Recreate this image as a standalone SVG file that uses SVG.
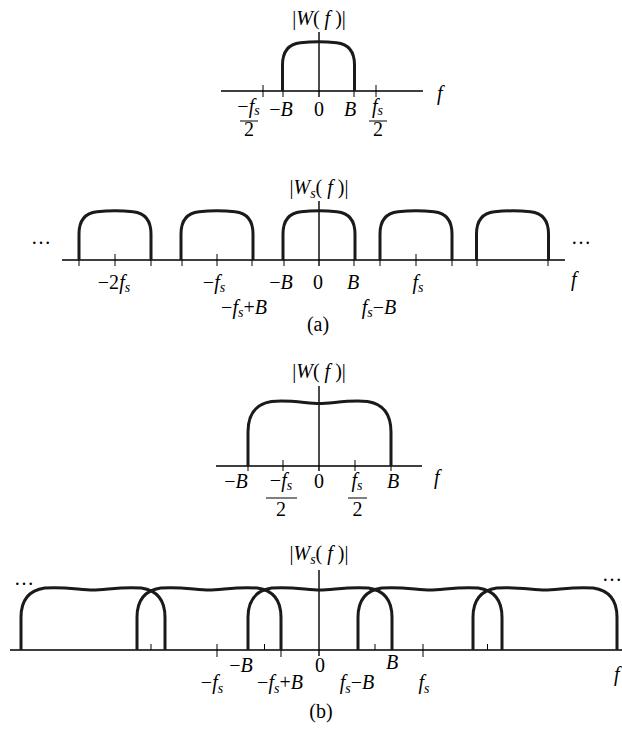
<svg xmlns="http://www.w3.org/2000/svg" width="622" height="729" viewBox="0 0 622 729">
<style>
.ax{stroke:#000;stroke-width:1.4;fill:none}
.tk{stroke:#000;stroke-width:1;fill:none}
.pl{stroke:#1a1a1a;stroke-width:3;fill:none;stroke-linejoin:round}
.bar{stroke:#000;stroke-width:1;}
text{font-family:"Liberation Serif","Times New Roman",serif;font-size:20px;fill:#000}
.i{font-style:italic}
.sub{font-size:14px;font-style:italic}
.m{text-anchor:middle}
</style>
<defs>
<path id="pa" d="M-36 0V-26C-36 -40 -30 -47 -18 -48.3Q0 -50 18 -48.3C30 -47 36 -40 36 -26V0"/>
<path id="pb1" d="M-71.5 0V-34C-71.5 -52 -64 -62 -48 -64.5C-30 -66.5 -12 -62.4 0 -62.4C12 -62.4 30 -66.5 48 -64.5C64 -62 71.5 -52 71.5 -34V0"/>
<path id="pb2" d="M-72 0V-32.6C-72 -50 -64.5 -59.5 -48.3 -61.9C-30.2 -63.8 -12 -59.9 0 -59.9C12 -59.9 30.2 -63.8 48.3 -61.9C64.5 -59.5 72 -50 72 -32.6V0"/>
</defs>
<rect width="622" height="729" fill="#fff"/>

<g id="plot-a1">
<path class="ax" d="M221 91H423M319 32V97"/>
<path class="tk" d="M263 85V97M376 85V97M283 91V97M354 91V97"/>
<use href="#pa" class="pl" transform="translate(318.5,91)"/>
<text class="m" x="319" y="25">|<tspan class="i">W</tspan>( <tspan class="i">f</tspan> )|</text>
<text class="i" x="437" y="100">f</text>
<text class="m" x="248.5" y="113">−<tspan class="i">f</tspan><tspan class="sub" dy="2">s</tspan></text>
<line class="bar" x1="240" y1="121" x2="258" y2="121"/>
<text class="m" x="249" y="136">2</text>
<text class="m" x="281" y="116">−<tspan class="i">B</tspan></text>
<text class="m" x="319" y="116">0</text>
<text class="m i" x="350" y="116">B</text>
<text class="m" x="377.5" y="113"><tspan class="i">f</tspan><tspan class="sub" dy="2">s</tspan></text>
<line class="bar" x1="369" y1="121" x2="387" y2="121"/>
<text class="m" x="378" y="136">2</text>
</g>

<g id="plot-a2">
<path class="ax" d="M62 260H565M319 201V266"/>
<path class="tk" d="M115 254V266M217 254V266M416 254V266M79 260V266M151 260V266M182 260V266M252 260V266M284 260V266M354 260V266M380 260V266M452 260V266M477 260V266M548 260V266"/>
<use href="#pa" class="pl" transform="translate(115,260)"/>
<use href="#pa" class="pl" transform="translate(217,260)"/>
<use href="#pa" class="pl" transform="translate(319,260)"/>
<use href="#pa" class="pl" transform="translate(416,260)"/>
<use href="#pa" class="pl" transform="translate(512.5,260)"/>
<text class="m" x="319" y="194">|<tspan class="i">W</tspan><tspan class="sub" dy="4">s</tspan><tspan dy="-4">( </tspan><tspan class="i">f</tspan> )|</text>
<text x="31" y="244">…</text>
<text x="571" y="244">…</text>
<text class="i" x="571" y="286">f</text>
<text class="m" x="114" y="289">−2<tspan class="i">f</tspan><tspan class="sub" dy="3">s</tspan></text>
<text class="m" x="214" y="289">−<tspan class="i">f</tspan><tspan class="sub" dy="3">s</tspan></text>
<text class="m" x="281" y="289">−<tspan class="i">B</tspan></text>
<text class="m" x="318" y="289">0</text>
<text class="m i" x="353" y="289">B</text>
<text class="m" x="418" y="289"><tspan class="i">f</tspan><tspan class="sub" dy="3">s</tspan></text>
<text class="m" x="244" y="314">−<tspan class="i">f</tspan><tspan class="sub" dy="3">s</tspan><tspan dy="-3">+</tspan><tspan class="i">B</tspan></text>
<text class="m" x="379" y="314"><tspan class="i">f</tspan><tspan class="sub" dy="3">s</tspan><tspan dy="-3">−</tspan><tspan class="i">B</tspan></text>
<text class="m" x="318" y="331">(a)</text>
</g>

<g id="plot-b1">
<path class="ax" d="M216 466H422M319 386V471"/>
<path class="tk" d="M283 460V471M355 460V471M248 466V471M391 466V471"/>
<use href="#pb1" class="pl" transform="translate(319.5,466)"/>
<text class="m" x="319" y="378">|<tspan class="i">W</tspan>( <tspan class="i">f</tspan> )|</text>
<text class="i" x="434" y="484">f</text>
<text class="m" x="236" y="488">−<tspan class="i">B</tspan></text>
<text class="m" x="281" y="487">−<tspan class="i">f</tspan><tspan class="sub" dy="3">s</tspan></text>
<line class="bar" x1="266" y1="498" x2="297" y2="498"/>
<text class="m" x="281" y="516">2</text>
<text class="m" x="319" y="488">0</text>
<text class="m" x="357" y="487"><tspan class="i">f</tspan><tspan class="sub" dy="3">s</tspan></text>
<line class="bar" x1="348" y1="498" x2="367" y2="498"/>
<text class="m" x="357.5" y="516">2</text>
<text class="m i" x="393" y="488">B</text>
</g>

<g id="plot-b2">
<path class="ax" d="M10 650H622M319 570V656"/>
<path class="tk" d="M151 644V650M264.5 644V650M375 644V650M487.5 644V650M217 644V657M423 644V657M281 650V657"/>
<use href="#pb2" class="pl" transform="translate(93,650)"/>
<use href="#pb2" class="pl" transform="translate(209,650)"/>
<use href="#pb2" class="pl" transform="translate(320,650)"/>
<use href="#pb2" class="pl" transform="translate(430,650)"/>
<use href="#pb2" class="pl" transform="translate(545,650)"/>
<text class="m" x="319" y="560">|<tspan class="i">W</tspan><tspan class="sub" dy="4">s</tspan><tspan dy="-4">( </tspan><tspan class="i">f</tspan> )|</text>
<text x="14" y="585">…</text>
<text x="602" y="581">…</text>
<text class="i" x="614" y="681">f</text>
<text class="m" x="241" y="672">−<tspan class="i">B</tspan></text>
<text class="m" x="320" y="672">0</text>
<text class="m i" x="392" y="669">B</text>
<text class="m" x="212" y="689">−<tspan class="i">f</tspan><tspan class="sub" dy="4">s</tspan></text>
<text class="m" x="280" y="689">−<tspan class="i">f</tspan><tspan class="sub" dy="4">s</tspan><tspan dy="-4">+</tspan><tspan class="i">B</tspan></text>
<text class="m" x="357" y="689"><tspan class="i">f</tspan><tspan class="sub" dy="4">s</tspan><tspan dy="-4">−</tspan><tspan class="i">B</tspan></text>
<text class="m" x="424" y="689"><tspan class="i">f</tspan><tspan class="sub" dy="4">s</tspan></text>
<text class="m" x="321" y="718">(b)</text>
</g>
</svg>
